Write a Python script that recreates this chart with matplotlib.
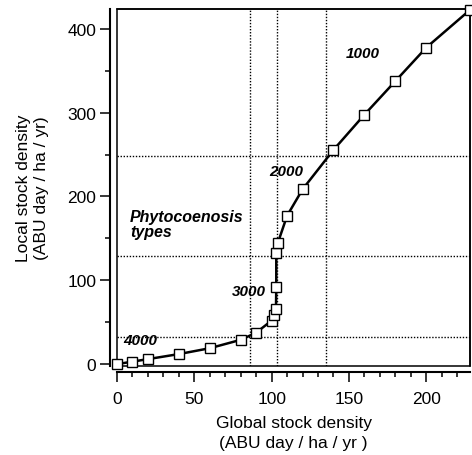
import numpy as np
import matplotlib
matplotlib.use('Agg')
import matplotlib.pyplot as plt
from matplotlib.patches import Rectangle

plt.rcParams['font.family'] = ['Liberation Sans', 'DejaVu Sans']

# global vs local stock density
glob_x = [0, 10, 20, 40, 60, 80, 90, 100, 101.3, 102.8, 103, 103, 104, 110, 120,
          140, 160, 180, 200, 228]
loc_y = [0, 3, 6, 12, 19, 29, 37.5, 52, 59, 65.5, 92, 133, 144.5, 177, 208.5,
         255.5, 297.5, 337.5, 377.5, 422]

# phytocoenosis type boundaries
vlines = [86, 103.5, 135.4]
hlines = [31.8, 128.9, 248.6]

type_labels = ['1000', '2000', '3000', '4000']
type_pos = [(158.8, 371), (109.3, 230), (85, 87.5), (15, 28.6)]

fig = plt.figure(figsize=(4.72, 4.56), dpi=100)
ax = fig.add_axes([0.2479, 0.1952, 0.7479, 0.7828])

for xv in vlines:
    ax.axvline(xv, color='black', linestyle=(0, (1, 1.2)), lw=1.0, zorder=1)
for yv in hlines:
    ax.axhline(yv, color='black', linestyle=(0, (1, 1.2)), lw=1.0, zorder=1)

ax.plot(glob_x, loc_y, color='black', lw=1.8, marker='s', markersize=6.5,
        markerfacecolor='white', markeredgecolor='black', markeredgewidth=1.0,
        zorder=3, clip_on=False)

for lab, (px, py) in zip(type_labels, type_pos):
    ax.text(px, py, lab, fontsize=11, fontweight='bold', fontstyle='italic',
            ha='center', va='center', zorder=4)
ax.text(8.4, 167, 'Phytocoenosis\ntypes', fontsize=11.5, fontweight='bold',
        fontstyle='italic', ha='left', va='center', linespacing=1.0)

ax.set_xlim(0, 228.3)
ax.set_ylim(-2.2, 423.5)

# detached axes (Igor style), with a frame drawn separately
ax.spines['left'].set_position(('outward', 5))
ax.spines['bottom'].set_position(('outward', 4.3))
for s in ['left', 'bottom']:
    ax.spines[s].set_linewidth(1.5)
for s in ['top', 'right']:
    ax.spines[s].set_linewidth(1.1)
ax.add_patch(Rectangle((0, 0), 1, 1, transform=ax.transAxes, fill=False,
                       lw=1.1, edgecolor='black', clip_on=False, zorder=2))

ax.set_xticks([0, 50, 100, 150, 200])
ax.set_xticks(np.arange(0, 229, 10), minor=True)
ax.set_yticks([0, 100, 200, 300, 400])
ax.set_yticks([50, 150, 250, 350], minor=True)
ax.tick_params(which='major', direction='out', length=7, width=1.1,
               labelsize=12.5)
ax.tick_params(axis='x', which='major', pad=7)
ax.tick_params(axis='y', which='major', pad=3)
ax.tick_params(which='minor', direction='out', length=3.4, width=1.1)

ax.set_xlabel('Global stock density\n(ABU day / ha / yr )', fontsize=12.5,
              labelpad=6, linespacing=1.45)
ax.set_ylabel('Local stock density\n(ABU day / ha / yr)', fontsize=12.5,
              labelpad=13, linespacing=1.3)

fig.savefig('out.png', dpi=100)
